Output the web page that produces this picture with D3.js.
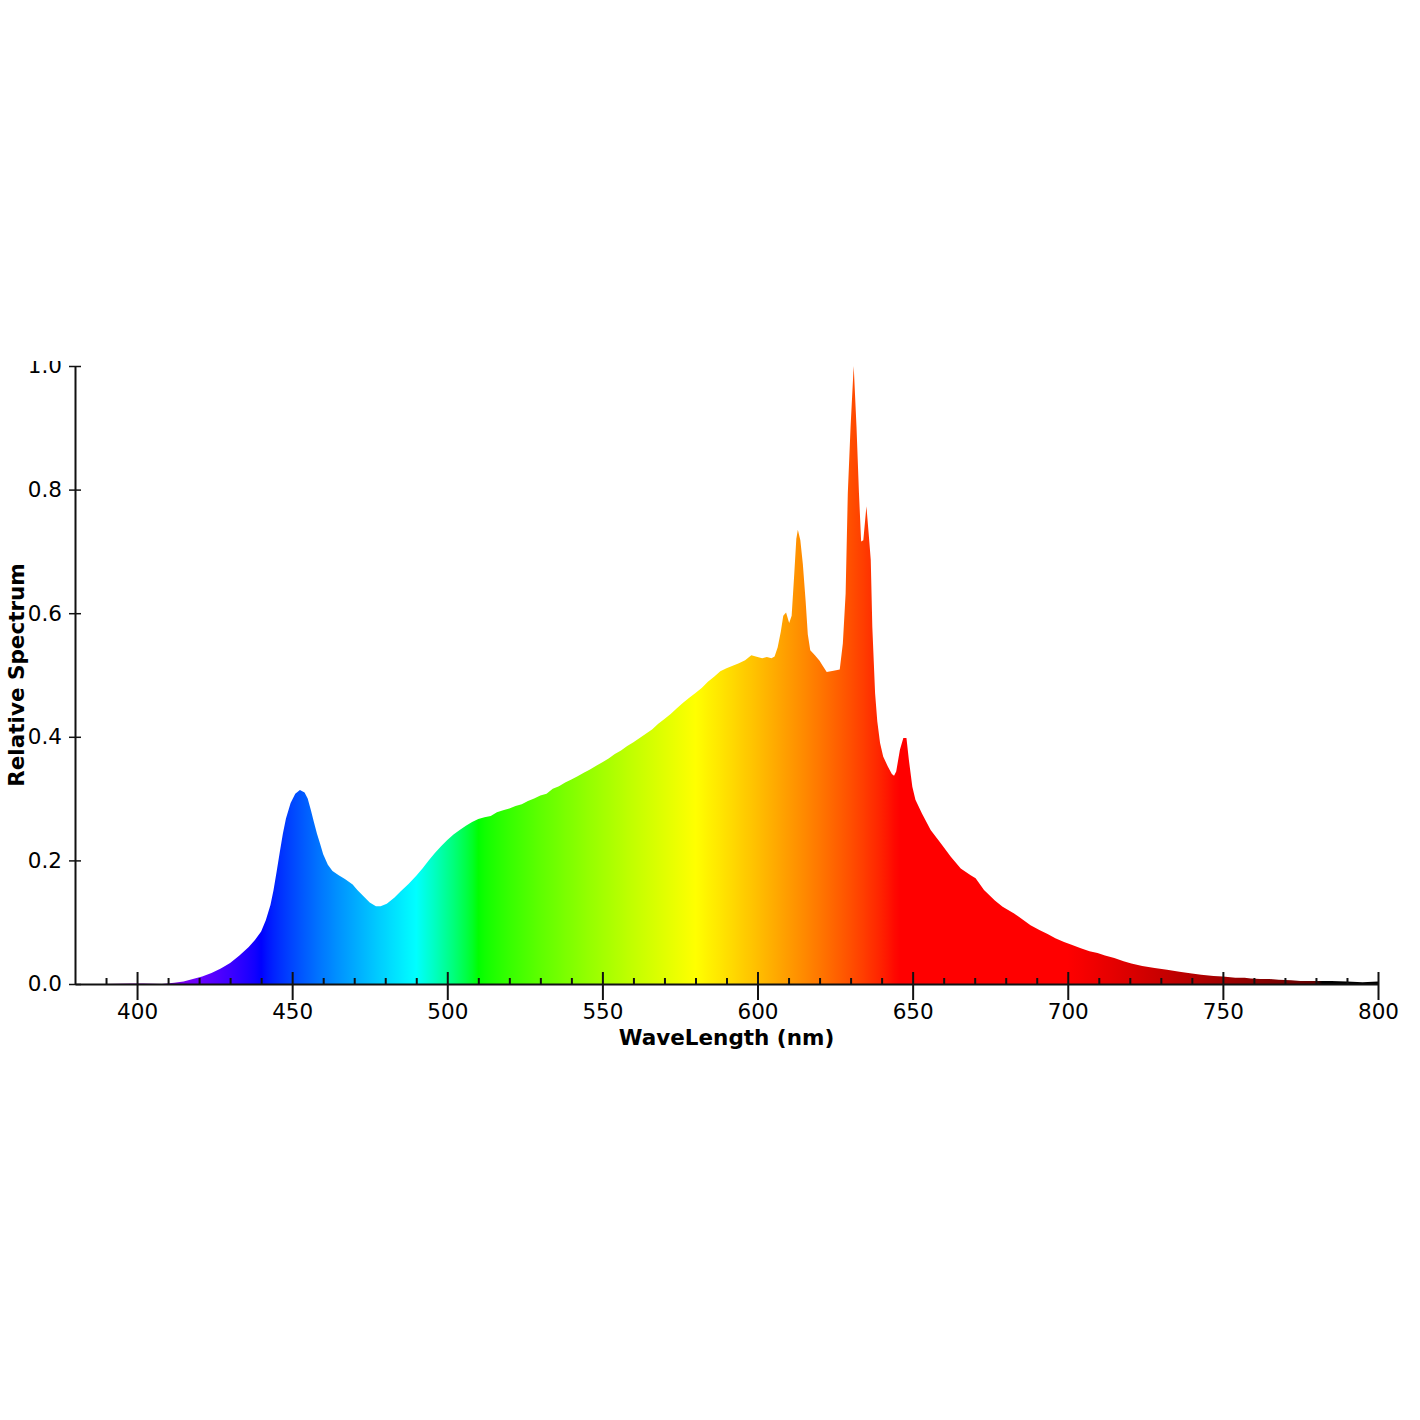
<!DOCTYPE html>
<html>
<head>
<meta charset="utf-8">
<script src="https://cdn.jsdelivr.net/npm/d3@7"></script>
<style>
  body { margin: 0; background: #fff; }
  text { font-family: "DejaVu Sans", Verdana, sans-serif; }
</style>
</head>
<body>
<div id="chart"></div>
<script>
// spectrum (nm, relative)
const wavelengths = [
  380, 390, 398, 402, 408, 412, 415, 418, 421, 424, 427, 430, 433, 436, 438, 440,
  441.5, 443, 444, 445, 446, 447, 448, 449.5, 451, 452.5, 454, 455, 456, 457, 458, 459,
  460, 461.5, 463, 465, 467, 469.5, 471, 473, 475, 477, 478.5, 480.5, 483, 485, 487.5, 490,
  492, 494, 496, 498, 500, 502, 504, 506, 508, 510, 512, 514, 516, 518, 520, 522,
  524, 526, 528, 530, 532, 534, 536, 538, 540, 542, 544, 546, 548, 550, 552, 554,
  556, 558, 560, 562, 564, 566, 568, 570, 572, 574, 576, 578, 580, 582, 584, 586,
  588, 590, 592, 594, 596, 598, 600, 601.5, 603, 604.5, 605.5, 606.5, 607.5, 608.3, 609.2, 610.2,
  611, 611.8, 612.5, 613, 613.8, 614.6, 615.5, 616.2, 617, 618.5, 620, 621, 622.3, 624.5, 626.5, 627.5,
  628.4, 629.1, 630, 631, 631.9, 632.7, 633.4, 634.1, 635.1, 635.9, 636.5, 637, 637.9, 638.6, 639.5, 640.5,
  642, 643.3, 644, 644.7, 645.9, 647, 648, 648.8, 649.9, 650.9, 653, 655.8, 659, 662.3, 665.5, 668.7,
  670.3, 673, 676.5, 679, 682.7, 685, 688, 691, 693.5, 696, 698.8, 701, 704.2, 707, 709.6, 712,
  715, 718, 720.5, 724, 728, 732, 736, 740, 743, 747, 750, 754, 757, 759, 762, 765,
  768, 772, 775, 780, 785, 790, 795, 800
];
const intensities = [
  0, 0, 0.001, 0.001, 0, 0.002, 0.004, 0.008, 0.012, 0.018, 0.025, 0.034, 0.046, 0.06, 0.071, 0.085,
  0.103, 0.128, 0.152, 0.182, 0.213, 0.243, 0.268, 0.293, 0.308, 0.314, 0.31, 0.3, 0.282, 0.262, 0.243, 0.227,
  0.21, 0.193, 0.183, 0.176, 0.17, 0.161, 0.152, 0.142, 0.132, 0.126, 0.126, 0.13, 0.14, 0.15, 0.162, 0.175,
  0.187, 0.2, 0.212, 0.223, 0.233, 0.242, 0.249, 0.256, 0.262, 0.267, 0.27, 0.272, 0.278, 0.281, 0.284, 0.288,
  0.291, 0.296, 0.3, 0.305, 0.308, 0.316, 0.32, 0.326, 0.331, 0.336, 0.342, 0.347, 0.353, 0.359, 0.365, 0.372,
  0.378, 0.385, 0.391, 0.398, 0.405, 0.412, 0.421, 0.429, 0.437, 0.446, 0.455, 0.463, 0.471, 0.479, 0.489, 0.497,
  0.506, 0.511, 0.515, 0.519, 0.524, 0.532, 0.529, 0.527, 0.529, 0.527, 0.53, 0.545, 0.57, 0.596, 0.601, 0.584,
  0.596, 0.66, 0.72, 0.735, 0.718, 0.68, 0.62, 0.566, 0.54, 0.532, 0.523, 0.515, 0.505, 0.507, 0.509, 0.551,
  0.632, 0.794, 0.902, 1.0, 0.902, 0.794, 0.716, 0.718, 0.773, 0.724, 0.686, 0.578, 0.47, 0.425, 0.39, 0.368,
  0.352, 0.34, 0.337, 0.344, 0.379, 0.398, 0.398, 0.362, 0.319, 0.298, 0.276, 0.249, 0.228, 0.206, 0.187, 0.176,
  0.171, 0.152, 0.135, 0.125, 0.114, 0.106, 0.095, 0.087, 0.081, 0.074, 0.068, 0.064, 0.058, 0.053, 0.05, 0.046,
  0.042, 0.037, 0.033, 0.029, 0.026, 0.023, 0.02, 0.017, 0.015, 0.013, 0.012, 0.01, 0.01, 0.009, 0.008, 0.008,
  0.007, 0.006, 0.005, 0.005, 0.005, 0.004, 0.003, 0.004
];
const xTicks = [400, 450, 500, 550, 600, 650, 700, 750, 800];
const yTicks = [0, 0.2, 0.4, 0.6, 0.8, 1.0];

const data = wavelengths.map((w, i) => ({ w: w, v: intensities[i] }));

const width = 1420;
const height = 1420;
const margin = { top: 366, right: 42, bottom: 436, left: 75 };

const svg = d3.select('#chart')
  .append('svg')
  .attr('width', width)
  .attr('height', height);

const defs = svg.append('defs');

// the original figure is cut a little above the plot
defs.append('clipPath').attr('id', 'page-clip')
  .append('rect')
  .attr('x', 0).attr('y', 361)
  .attr('width', width).attr('height', height - 361);

const root = svg.append('g').attr('clip-path', 'url(#page-clip)');

const x = d3.scaleLinear()
  .domain([380, 800])
  .range([margin.left, width - margin.right]);

const y = d3.scaleLinear()
  .domain([0, 1])
  .range([height - margin.bottom, margin.top]);

// wavelength -> rgb (Bruton style)
function waveColor(w) {
  let r = 0, g = 0, b = 0;
  if (w < 440) { r = (440 - w) / 60; b = 1; }
  else if (w < 490) { g = (w - 440) / 50; b = 1; }
  else if (w < 510) { g = 1; b = (510 - w) / 20; }
  else if (w < 580) { r = (w - 510) / 70; g = 1; }
  else if (w < 645) { r = 1; g = (645 - w) / 65; }
  else if (w <= 781) { r = 1; }
  let f = 1;
  if (w < 420) f = 0.3 + 0.7 * (w - 380) / 40;
  else if (w > 700) f = 0.3 + 0.7 * (780 - w) / 80;
  if (w > 781) f = 0;
  const c = v => Math.round(255 * Math.pow(Math.max(0, v * f), 0.8));
  return `rgb(${c(r)},${c(g)},${c(b)})`;
}

const grad = defs.append('linearGradient')
  .attr('id', 'spectrum')
  .attr('gradientUnits', 'userSpaceOnUse')
  .attr('x1', x(380)).attr('x2', x(800))
  .attr('y1', 0).attr('y2', 0);

grad.selectAll('stop')
  .data(d3.range(380, 801, 2))
  .join('stop')
  .attr('offset', d => (d - 380) / 420)
  .attr('stop-color', d => waveColor(d));

const area = d3.area()
  .x(d => x(d.w))
  .y0(y(0))
  .y1(d => y(d.v));

root.append('path')
  .datum(data)
  .attr('d', area)
  .attr('fill', 'url(#spectrum)');

// minor ticks every 10 nm, inside only
root.append('g')
  .attr('transform', `translate(0, ${y(0)})`)
  .call(d3.axisBottom(x)
    .tickValues(d3.range(390, 800, 10).filter(d => d % 50 !== 0))
    .tickSize(-6)
    .tickFormat(''))
  .call(g => g.select('.domain').remove())
  .selectAll('line')
  .attr('stroke', '#111')
  .attr('stroke-width', 2);

// x axis
const xAxis = root.append('g')
  .attr('transform', `translate(0, ${y(0)})`)
  .call(d3.axisBottom(x)
    .tickValues(xTicks)
    .tickSizeInner(16)
    .tickSizeOuter(0)
    .tickPadding(4));

xAxis.select('.domain').attr('stroke', '#111').attr('stroke-width', 2);
xAxis.selectAll('.tick line')
  .attr('y1', -12)
  .attr('stroke', '#111')
  .attr('stroke-width', 2);
xAxis.selectAll('text')
  .attr('font-size', '21.5px')
  .attr('fill', '#000');

// y axis
const yAxis = root.append('g')
  .attr('transform', `translate(${margin.left}, 0)`)
  .call(d3.axisLeft(y)
    .tickValues(yTicks)
    .tickFormat(d3.format('.1f'))
    .tickSizeInner(6)
    .tickSizeOuter(0)
    .tickPadding(7));

yAxis.select('.domain').attr('stroke', '#111').attr('stroke-width', 2);
yAxis.selectAll('.tick line')
  .attr('x1', 6)
  .attr('stroke', '#111')
  .attr('stroke-width', 1.5);
yAxis.selectAll('text')
  .attr('font-size', '21.5px')
  .attr('fill', '#000');

// axis titles
root.append('text')
  .attr('x', (x(380) + x(800)) / 2)
  .attr('y', 1045)
  .attr('text-anchor', 'middle')
  .attr('font-size', '21.5px')
  .attr('font-weight', 'bold')
  .text('WaveLength (nm)');

root.append('text')
  .attr('transform', `translate(24, ${(y(0) + y(1)) / 2}) rotate(-90)`)
  .attr('text-anchor', 'middle')
  .attr('font-size', '21.5px')
  .attr('font-weight', 'bold')
  .text('Relative Spectrum');
</script>
</body>
</html>
